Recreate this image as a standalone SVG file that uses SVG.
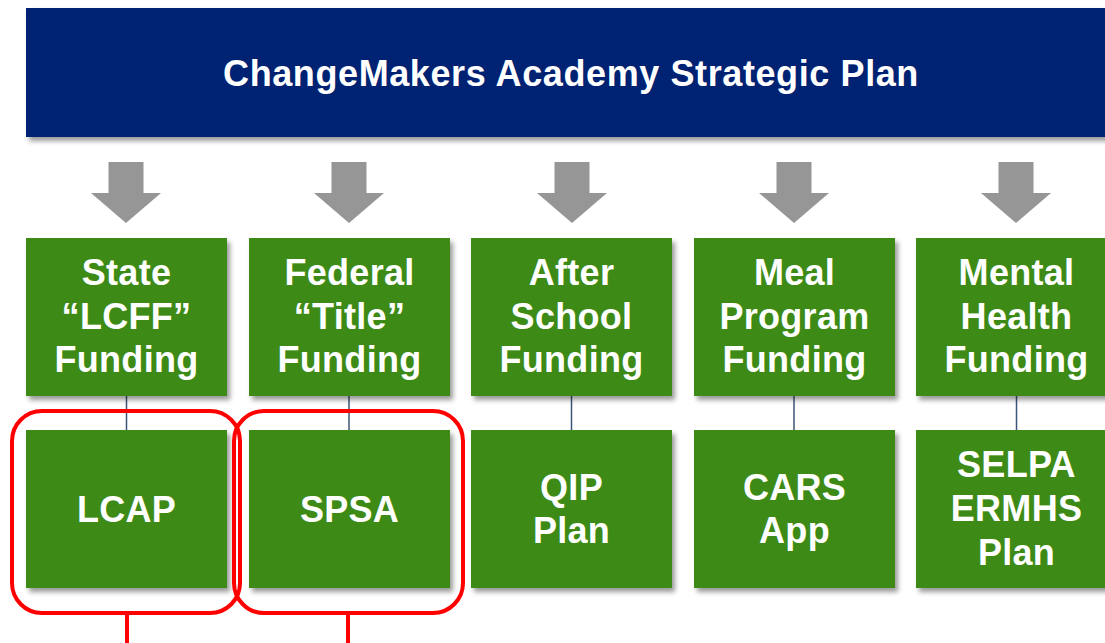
<svg xmlns="http://www.w3.org/2000/svg" width="1105" height="643" viewBox="0 0 1105 643">
<defs>
<filter id="sh" x="-10%" y="-10%" width="130%" height="130%">
<feDropShadow dx="3" dy="4" stdDeviation="2.5" flood-color="#000" flood-opacity="0.4"/>
</filter>
<polygon id="arr" points="-17.5,162 17.5,162 17.5,193 35,193 0,223 -35,193 -17.5,193"/>
</defs>
<style>
.hdr{fill:#062373}
.box{fill:#3d8b14}
.t{font-family:"Liberation Sans",Arial,sans-serif;font-weight:bold;fill:#fff;text-anchor:middle;font-size:36px;letter-spacing:0.3px}
.h{font-size:36px;letter-spacing:0.6px}
.arrow{fill:#969696}
.conn{stroke:#3c5478;stroke-width:1.5;fill:none}
.red{stroke:#ff0000;stroke-width:4;fill:none}
</style>
<rect width="1105" height="643" fill="#fff"/>
<g id="header">
<rect class="hdr" x="26" y="8" width="1091" height="129" filter="url(#sh)"/>
<text class="t h" x="571" y="86">ChangeMakers Academy Strategic Plan</text>
</g>
<g id="arrows">
<use href="#arr" class="arrow" x="126"/>
<use href="#arr" class="arrow" x="349"/>
<use href="#arr" class="arrow" x="572"/>
<use href="#arr" class="arrow" x="794"/>
<use href="#arr" class="arrow" x="1016"/>
</g>
<g id="connectors">
<line class="conn" x1="126.5" y1="396" x2="126.5" y2="430"/>
<line class="conn" x1="349" y1="396" x2="349" y2="430"/>
<line class="conn" x1="571.5" y1="396" x2="571.5" y2="430"/>
<line class="conn" x1="794" y1="396" x2="794" y2="430"/>
<line class="conn" x1="1016.5" y1="396" x2="1016.5" y2="430"/>
</g>
<g id="state">
<rect class="box" x="26" y="238" width="201" height="158" filter="url(#sh)"/>
<text class="t" x="126.5" y="285">State</text>
<text class="t" x="126.5" y="329">“LCFF”</text>
<text class="t" x="126.5" y="372">Funding</text>
</g>
<g id="federal">
<rect class="box" x="249" y="238" width="201" height="158" filter="url(#sh)"/>
<text class="t" x="349.5" y="285">Federal</text>
<text class="t" x="349.5" y="329">“Title”</text>
<text class="t" x="349.5" y="372">Funding</text>
</g>
<g id="afterschool">
<rect class="box" x="471" y="238" width="201" height="158" filter="url(#sh)"/>
<text class="t" x="571.5" y="285">After</text>
<text class="t" x="571.5" y="329">School</text>
<text class="t" x="571.5" y="372">Funding</text>
</g>
<g id="meal">
<rect class="box" x="694" y="238" width="201" height="158" filter="url(#sh)"/>
<text class="t" x="794.5" y="285">Meal</text>
<text class="t" x="794.5" y="329">Program</text>
<text class="t" x="794.5" y="372">Funding</text>
</g>
<g id="mental">
<rect class="box" x="916" y="238" width="201" height="158" filter="url(#sh)"/>
<text class="t" x="1016.5" y="285">Mental</text>
<text class="t" x="1016.5" y="329">Health</text>
<text class="t" x="1016.5" y="372">Funding</text>
</g>
<g id="lcap">
<rect class="box" x="26" y="430" width="201" height="158" filter="url(#sh)"/>
<text class="t" x="126.5" y="522">LCAP</text>
</g>
<g id="spsa">
<rect class="box" x="249" y="430" width="201" height="158" filter="url(#sh)"/>
<text class="t" x="349.5" y="522">SPSA</text>
</g>
<g id="qip">
<rect class="box" x="471" y="430" width="201" height="158" filter="url(#sh)"/>
<text class="t" x="571.5" y="500">QIP</text>
<text class="t" x="571.5" y="543">Plan</text>
</g>
<g id="cars">
<rect class="box" x="694" y="430" width="201" height="158" filter="url(#sh)"/>
<text class="t" x="794.5" y="500">CARS</text>
<text class="t" x="794.5" y="543">App</text>
</g>
<g id="selpa">
<rect class="box" x="916" y="430" width="201" height="158" filter="url(#sh)"/>
<text class="t" x="1016.5" y="477">SELPA</text>
<text class="t" x="1016.5" y="521">ERMHS</text>
<text class="t" x="1016.5" y="565">Plan</text>
</g>
<g id="highlights">
<rect class="red" x="12" y="411" width="228" height="202" rx="30"/>
<rect class="red" x="234" y="411" width="229" height="202" rx="30"/>
<line class="red" x1="127" y1="613" x2="127" y2="643"/>
<line class="red" x1="348" y1="613" x2="348" y2="643"/>
</g>
</svg>
